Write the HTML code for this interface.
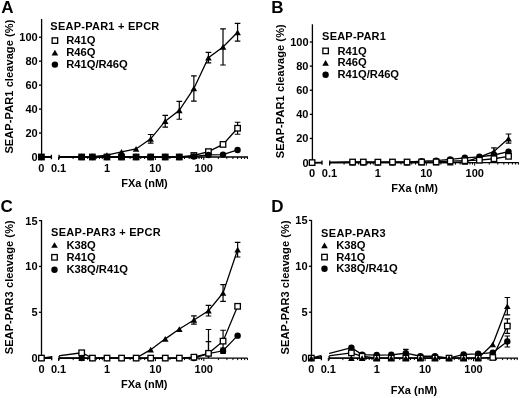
<!DOCTYPE html>
<html><head><meta charset="utf-8"><style>
html,body{margin:0;padding:0;background:#fff;}
svg{display:block;will-change:transform;filter:blur(0.3px);font-family:"Liberation Sans", sans-serif;}
</style></head><body>
<svg width="520" height="398" viewBox="0 0 520 398" fill="#000">
<text x="1.3" y="13" font-size="17" font-weight="bold" text-anchor="start" >A</text>
<path d="M41.6 19V157" stroke="#000" stroke-width="1.3" fill="none"/>
<path d="M39 157H41.6" stroke="#000" stroke-width="1.3"/>
<text x="37.7" y="160.9" font-size="11" font-weight="bold" text-anchor="end" >0</text>
<path d="M39 133.04H41.6" stroke="#000" stroke-width="1.3"/>
<text x="37.7" y="136.94" font-size="11" font-weight="bold" text-anchor="end" >20</text>
<path d="M39 109.08H41.6" stroke="#000" stroke-width="1.3"/>
<text x="37.7" y="112.98" font-size="11" font-weight="bold" text-anchor="end" >40</text>
<path d="M39 85.12H41.6" stroke="#000" stroke-width="1.3"/>
<text x="37.7" y="89.02" font-size="11" font-weight="bold" text-anchor="end" >60</text>
<path d="M39 61.16H41.6" stroke="#000" stroke-width="1.3"/>
<text x="37.7" y="65.06" font-size="11" font-weight="bold" text-anchor="end" >80</text>
<path d="M39 37.2H41.6" stroke="#000" stroke-width="1.3"/>
<text x="37.7" y="41.1" font-size="11" font-weight="bold" text-anchor="end" >100</text>
<path d="M41.6 157H51.4M51.4 154.8V159.2" stroke="#000" stroke-width="1.3" fill="none"/>
<path d="M59.1 154.8V159.2M59.1 157H248" stroke="#000" stroke-width="1.3" fill="none"/>
<path d="M58.55 157v3M73.12 157v2M81.64 157v2M87.69 157v2M92.38 157v2M96.21 157v2M99.45 157v2M102.26 157v2M104.74 157v2M106.95 157v3M121.52 157v2M130.04 157v2M136.09 157v2M140.78 157v2M144.61 157v2M147.85 157v2M150.66 157v2M153.14 157v2M155.35 157v3M169.92 157v2M178.44 157v2M184.49 157v2M189.18 157v2M193.01 157v2M196.25 157v2M199.06 157v2M201.54 157v2M203.75 157v3M218.32 157v2M226.84 157v2M232.89 157v2M237.58 157v2M241.41 157v2M244.65 157v2M247.46 157v2" stroke="#000" stroke-width="1"/>
<text x="41.4" y="171.6" font-size="11" font-weight="bold" text-anchor="middle" >0</text>
<text x="58.55" y="171.6" font-size="11" font-weight="bold" text-anchor="middle" >0.1</text>
<text x="106.95" y="171.6" font-size="11" font-weight="bold" text-anchor="middle" >1</text>
<text x="155.35" y="171.6" font-size="11" font-weight="bold" text-anchor="middle" >10</text>
<text x="203.75" y="171.6" font-size="11" font-weight="bold" text-anchor="middle" >100</text>
<text x="144.5" y="187.2" font-size="11" font-weight="bold" text-anchor="middle" >FXa (nM)</text>
<text x="0" y="0" font-size="11" font-weight="bold" text-anchor="middle" textLength="134" lengthAdjust="spacing" transform="translate(12.5 86.6) rotate(-90)">SEAP-PAR1 cleavage (%)</text>
<text x="50.3" y="29.6" font-size="11" font-weight="bold" text-anchor="start" textLength="109" lengthAdjust="spacing">SEAP-PAR1 + EPCR</text>
<rect x="52.15" y="37.85" width="5.5" height="5.5" fill="#fff" stroke="#000" stroke-width="1.3"/>
<text x="66.2" y="44.2" font-size="11.2" font-weight="bold" text-anchor="start" >R41Q</text>
<path d="M54.9 49.74L58.2 55.46L51.6 55.46Z" fill="#000"/>
<text x="66.2" y="56.2" font-size="11.2" font-weight="bold" text-anchor="start" >R46Q</text>
<circle cx="54.9" cy="64.6" r="3.2" fill="#000"/>
<text x="66.2" y="68.2" font-size="11.2" font-weight="bold" text-anchor="start" >R41Q/R46Q</text>
<clipPath id="cA"><rect x="0" y="0" width="51.4" height="400"/><rect x="59.1" y="0" width="600" height="400"/></clipPath>
<path d="M41.4 157L81.64 157L92.38 157L106.95 157L121.52 157L136.09 157L150.66 157L165.23 157L179.3 157L193.87 155.5L208.44 151.61L223.01 144.42L237.58 128.25" stroke="#000" stroke-width="1.3" fill="none" clip-path="url(#cA)"/>
<path d="M41.4 157L81.64 157L92.38 156.64L106.95 155.2L121.52 151.97L136.09 148.97L150.66 138.79L165.23 121.18L179.3 110.28L193.87 88.47L208.44 57.69L223.01 46.9L237.58 32.29" stroke="#000" stroke-width="1.3" fill="none" clip-path="url(#cA)"/>
<path d="M41.4 157L81.64 157L92.38 157L106.95 157L121.52 157L136.09 157L150.66 157L165.23 157L179.3 157L193.87 156.52L208.44 154.96L223.01 154.6L237.58 149.93" stroke="#000" stroke-width="1.3" fill="none" clip-path="url(#cA)"/>
<path d="M237.58 122.26V134.24M234.78 122.26h5.6M234.78 134.24h5.6" stroke="#000" stroke-width="1.2" fill="none"/>
<path d="M150.66 134.48V143.1M147.86 134.48h5.6M147.86 143.1h5.6" stroke="#000" stroke-width="1.2" fill="none"/>
<path d="M165.23 115.31V127.05M162.43 115.31h5.6M162.43 127.05h5.6" stroke="#000" stroke-width="1.2" fill="none"/>
<path d="M179.3 101.29V119.26M176.5 101.29h5.6M176.5 119.26h5.6" stroke="#000" stroke-width="1.2" fill="none"/>
<path d="M193.87 75.78V101.17M191.07 75.78h5.6M191.07 101.17h5.6" stroke="#000" stroke-width="1.2" fill="none"/>
<path d="M208.44 52.41V62.96M205.64 52.41h5.6M205.64 62.96h5.6" stroke="#000" stroke-width="1.2" fill="none"/>
<path d="M223.01 28.81V64.99M220.21 28.81h5.6M220.21 64.99h5.6" stroke="#000" stroke-width="1.2" fill="none"/>
<path d="M237.58 23.42V41.15M234.78 23.42h5.6M234.78 41.15h5.6" stroke="#000" stroke-width="1.2" fill="none"/>
<rect x="38.65" y="154.25" width="5.5" height="5.5" fill="#fff" stroke="#000" stroke-width="1.3"/>
<rect x="78.89" y="154.25" width="5.5" height="5.5" fill="#fff" stroke="#000" stroke-width="1.3"/>
<rect x="89.63" y="154.25" width="5.5" height="5.5" fill="#fff" stroke="#000" stroke-width="1.3"/>
<rect x="104.2" y="154.25" width="5.5" height="5.5" fill="#fff" stroke="#000" stroke-width="1.3"/>
<rect x="118.77" y="154.25" width="5.5" height="5.5" fill="#fff" stroke="#000" stroke-width="1.3"/>
<rect x="133.34" y="154.25" width="5.5" height="5.5" fill="#fff" stroke="#000" stroke-width="1.3"/>
<rect x="147.91" y="154.25" width="5.5" height="5.5" fill="#fff" stroke="#000" stroke-width="1.3"/>
<rect x="162.48" y="154.25" width="5.5" height="5.5" fill="#fff" stroke="#000" stroke-width="1.3"/>
<rect x="176.55" y="154.25" width="5.5" height="5.5" fill="#fff" stroke="#000" stroke-width="1.3"/>
<rect x="191.12" y="152.75" width="5.5" height="5.5" fill="#fff" stroke="#000" stroke-width="1.3"/>
<rect x="205.69" y="148.86" width="5.5" height="5.5" fill="#fff" stroke="#000" stroke-width="1.3"/>
<rect x="220.26" y="141.67" width="5.5" height="5.5" fill="#fff" stroke="#000" stroke-width="1.3"/>
<rect x="234.83" y="125.5" width="5.5" height="5.5" fill="#fff" stroke="#000" stroke-width="1.3"/>
<path d="M41.4 154.14L44.7 159.86L38.1 159.86Z" fill="#000"/>
<path d="M81.64 154.14L84.94 159.86L78.34 159.86Z" fill="#000"/>
<path d="M92.38 153.78L95.68 159.5L89.08 159.5Z" fill="#000"/>
<path d="M106.95 152.35L110.25 158.06L103.65 158.06Z" fill="#000"/>
<path d="M121.52 149.11L124.82 154.83L118.22 154.83Z" fill="#000"/>
<path d="M136.09 146.12L139.39 151.83L132.79 151.83Z" fill="#000"/>
<path d="M150.66 135.93L153.96 141.65L147.36 141.65Z" fill="#000"/>
<path d="M165.23 118.32L168.53 124.04L161.93 124.04Z" fill="#000"/>
<path d="M179.3 107.42L182.6 113.14L176 113.14Z" fill="#000"/>
<path d="M193.87 85.62L197.17 91.33L190.57 91.33Z" fill="#000"/>
<path d="M208.44 54.83L211.74 60.54L205.14 60.54Z" fill="#000"/>
<path d="M223.01 44.05L226.31 49.76L219.71 49.76Z" fill="#000"/>
<path d="M237.58 29.43L240.88 35.15L234.28 35.15Z" fill="#000"/>
<circle cx="41.4" cy="157" r="3.2" fill="#000"/>
<circle cx="81.64" cy="157" r="3.2" fill="#000"/>
<circle cx="92.38" cy="157" r="3.2" fill="#000"/>
<circle cx="106.95" cy="157" r="3.2" fill="#000"/>
<circle cx="121.52" cy="157" r="3.2" fill="#000"/>
<circle cx="136.09" cy="157" r="3.2" fill="#000"/>
<circle cx="150.66" cy="157" r="3.2" fill="#000"/>
<circle cx="165.23" cy="157" r="3.2" fill="#000"/>
<circle cx="179.3" cy="157" r="3.2" fill="#000"/>
<circle cx="193.87" cy="156.52" r="3.2" fill="#000"/>
<circle cx="208.44" cy="154.96" r="3.2" fill="#000"/>
<circle cx="223.01" cy="154.6" r="3.2" fill="#000"/>
<circle cx="237.58" cy="149.93" r="3.2" fill="#000"/>
<text x="271.3" y="13.3" font-size="17" font-weight="bold" text-anchor="start" >B</text>
<path d="M312.4 24.3V162.6" stroke="#000" stroke-width="1.3" fill="none"/>
<path d="M309.8 162.6H312.4" stroke="#000" stroke-width="1.3"/>
<text x="308.5" y="166.5" font-size="11" font-weight="bold" text-anchor="end" >0</text>
<path d="M309.8 138.48H312.4" stroke="#000" stroke-width="1.3"/>
<text x="308.5" y="142.38" font-size="11" font-weight="bold" text-anchor="end" >20</text>
<path d="M309.8 114.36H312.4" stroke="#000" stroke-width="1.3"/>
<text x="308.5" y="118.26" font-size="11" font-weight="bold" text-anchor="end" >40</text>
<path d="M309.8 90.24H312.4" stroke="#000" stroke-width="1.3"/>
<text x="308.5" y="94.14" font-size="11" font-weight="bold" text-anchor="end" >60</text>
<path d="M309.8 66.12H312.4" stroke="#000" stroke-width="1.3"/>
<text x="308.5" y="70.02" font-size="11" font-weight="bold" text-anchor="end" >80</text>
<path d="M309.8 42H312.4" stroke="#000" stroke-width="1.3"/>
<text x="308.5" y="45.9" font-size="11" font-weight="bold" text-anchor="end" >100</text>
<path d="M312.4 162.6H322M322 160.4V164.8" stroke="#000" stroke-width="1.3" fill="none"/>
<path d="M329.8 160.4V164.8M329.8 162.6H518.8" stroke="#000" stroke-width="1.3" fill="none"/>
<path d="M329.5 162.6v3M344.07 162.6v2M352.59 162.6v2M358.64 162.6v2M363.33 162.6v2M367.16 162.6v2M370.4 162.6v2M373.21 162.6v2M375.69 162.6v2M377.9 162.6v3M392.47 162.6v2M400.99 162.6v2M407.04 162.6v2M411.73 162.6v2M415.56 162.6v2M418.8 162.6v2M421.61 162.6v2M424.09 162.6v2M426.3 162.6v3M440.87 162.6v2M449.39 162.6v2M455.44 162.6v2M460.13 162.6v2M463.96 162.6v2M467.2 162.6v2M470.01 162.6v2M472.49 162.6v2M474.7 162.6v3M489.27 162.6v2M497.79 162.6v2M503.84 162.6v2M508.53 162.6v2M512.36 162.6v2M515.6 162.6v2M518.41 162.6v2" stroke="#000" stroke-width="1"/>
<text x="312.1" y="177.3" font-size="11" font-weight="bold" text-anchor="middle" >0</text>
<text x="329.5" y="177.3" font-size="11" font-weight="bold" text-anchor="middle" >0.1</text>
<text x="377.9" y="177.3" font-size="11" font-weight="bold" text-anchor="middle" >1</text>
<text x="426.3" y="177.3" font-size="11" font-weight="bold" text-anchor="middle" >10</text>
<text x="474.7" y="177.3" font-size="11" font-weight="bold" text-anchor="middle" >100</text>
<text x="414.6" y="192.4" font-size="11" font-weight="bold" text-anchor="middle" >FXa (nM)</text>
<text x="0" y="0" font-size="11" font-weight="bold" text-anchor="middle" textLength="134" lengthAdjust="spacing" transform="translate(283.5 91.3) rotate(-90)">SEAP-PAR1 cleavage (%)</text>
<text x="322.1" y="40.4" font-size="11" font-weight="bold" text-anchor="start" textLength="63.8" lengthAdjust="spacing">SEAP-PAR1</text>
<rect x="322.85" y="48.15" width="5.5" height="5.5" fill="#fff" stroke="#000" stroke-width="1.3"/>
<text x="337.5" y="54.5" font-size="11.2" font-weight="bold" text-anchor="start" >R41Q</text>
<path d="M325.6 59.94L328.9 65.66L322.3 65.66Z" fill="#000"/>
<text x="337.5" y="66.4" font-size="11.2" font-weight="bold" text-anchor="start" >R46Q</text>
<circle cx="325.6" cy="74.8" r="3.2" fill="#000"/>
<text x="337.5" y="78.4" font-size="11.2" font-weight="bold" text-anchor="start" >R41Q/R46Q</text>
<clipPath id="cB"><rect x="0" y="0" width="322" height="400"/><rect x="329.8" y="0" width="600" height="400"/></clipPath>
<path d="M312.1 162.6L352.59 162.6L363.33 162.6L377.9 162.6L392.47 162.6L407.04 162.6L421.61 162.6L436.18 162.6L450.25 162.6L464.82 162L479.39 157.17L493.96 151.38L508.53 138.6" stroke="#000" stroke-width="1.3" fill="none" clip-path="url(#cB)"/>
<path d="M312.1 162.6L352.59 162.24L363.33 162.24L377.9 162.24L392.47 162.24L407.04 162.24L421.61 161.15L436.18 160.67L450.25 159.46L464.82 157.78L479.39 156.81L493.96 155L508.53 151.63" stroke="#000" stroke-width="1.3" fill="none" clip-path="url(#cB)"/>
<path d="M312.1 162.6L352.59 162L363.33 162L377.9 162.12L392.47 162L407.04 162L421.61 162L436.18 161.88L450.25 161.03L464.82 160.67L479.39 160.19L493.96 158.74L508.53 156.33" stroke="#000" stroke-width="1.3" fill="none" clip-path="url(#cB)"/>
<path d="M493.96 147.95V154.82M491.16 147.95h5.6M491.16 154.82h5.6" stroke="#000" stroke-width="1.2" fill="none"/>
<path d="M508.53 134.02V143.18M505.73 134.02h5.6M505.73 143.18h5.6" stroke="#000" stroke-width="1.2" fill="none"/>
<path d="M312.1 159.74L315.4 165.46L308.8 165.46Z" fill="#000"/>
<path d="M352.59 159.74L355.89 165.46L349.29 165.46Z" fill="#000"/>
<path d="M363.33 159.74L366.63 165.46L360.03 165.46Z" fill="#000"/>
<path d="M377.9 159.74L381.2 165.46L374.6 165.46Z" fill="#000"/>
<path d="M392.47 159.74L395.77 165.46L389.17 165.46Z" fill="#000"/>
<path d="M407.04 159.74L410.34 165.46L403.74 165.46Z" fill="#000"/>
<path d="M421.61 159.74L424.91 165.46L418.31 165.46Z" fill="#000"/>
<path d="M436.18 159.74L439.48 165.46L432.88 165.46Z" fill="#000"/>
<path d="M450.25 159.74L453.55 165.46L446.95 165.46Z" fill="#000"/>
<path d="M464.82 159.14L468.12 164.85L461.52 164.85Z" fill="#000"/>
<path d="M479.39 154.32L482.69 160.03L476.09 160.03Z" fill="#000"/>
<path d="M493.96 148.53L497.26 154.24L490.66 154.24Z" fill="#000"/>
<path d="M508.53 135.74L511.83 141.46L505.23 141.46Z" fill="#000"/>
<circle cx="312.1" cy="162.6" r="3.2" fill="#000"/>
<circle cx="352.59" cy="162.24" r="3.2" fill="#000"/>
<circle cx="363.33" cy="162.24" r="3.2" fill="#000"/>
<circle cx="377.9" cy="162.24" r="3.2" fill="#000"/>
<circle cx="392.47" cy="162.24" r="3.2" fill="#000"/>
<circle cx="407.04" cy="162.24" r="3.2" fill="#000"/>
<circle cx="421.61" cy="161.15" r="3.2" fill="#000"/>
<circle cx="436.18" cy="160.67" r="3.2" fill="#000"/>
<circle cx="450.25" cy="159.46" r="3.2" fill="#000"/>
<circle cx="464.82" cy="157.78" r="3.2" fill="#000"/>
<circle cx="479.39" cy="156.81" r="3.2" fill="#000"/>
<circle cx="493.96" cy="155" r="3.2" fill="#000"/>
<circle cx="508.53" cy="151.63" r="3.2" fill="#000"/>
<rect x="309.35" y="159.85" width="5.5" height="5.5" fill="#fff" stroke="#000" stroke-width="1.3"/>
<rect x="349.84" y="159.25" width="5.5" height="5.5" fill="#fff" stroke="#000" stroke-width="1.3"/>
<rect x="360.58" y="159.25" width="5.5" height="5.5" fill="#fff" stroke="#000" stroke-width="1.3"/>
<rect x="375.15" y="159.37" width="5.5" height="5.5" fill="#fff" stroke="#000" stroke-width="1.3"/>
<rect x="389.72" y="159.25" width="5.5" height="5.5" fill="#fff" stroke="#000" stroke-width="1.3"/>
<rect x="404.29" y="159.25" width="5.5" height="5.5" fill="#fff" stroke="#000" stroke-width="1.3"/>
<rect x="418.86" y="159.25" width="5.5" height="5.5" fill="#fff" stroke="#000" stroke-width="1.3"/>
<rect x="433.43" y="159.13" width="5.5" height="5.5" fill="#fff" stroke="#000" stroke-width="1.3"/>
<rect x="447.5" y="158.28" width="5.5" height="5.5" fill="#fff" stroke="#000" stroke-width="1.3"/>
<rect x="462.07" y="157.92" width="5.5" height="5.5" fill="#fff" stroke="#000" stroke-width="1.3"/>
<rect x="476.64" y="157.44" width="5.5" height="5.5" fill="#fff" stroke="#000" stroke-width="1.3"/>
<rect x="491.21" y="155.99" width="5.5" height="5.5" fill="#fff" stroke="#000" stroke-width="1.3"/>
<rect x="505.78" y="153.58" width="5.5" height="5.5" fill="#fff" stroke="#000" stroke-width="1.3"/>
<text x="0.4" y="211.6" font-size="17" font-weight="bold" text-anchor="start" >C</text>
<path d="M41.5 220V358.1" stroke="#000" stroke-width="1.3" fill="none"/>
<path d="M38.9 358.1H41.5" stroke="#000" stroke-width="1.3"/>
<text x="37.6" y="362" font-size="11" font-weight="bold" text-anchor="end" >0</text>
<path d="M38.9 312.27H41.5" stroke="#000" stroke-width="1.3"/>
<text x="37.6" y="316.17" font-size="11" font-weight="bold" text-anchor="end" >5</text>
<path d="M38.9 266.43H41.5" stroke="#000" stroke-width="1.3"/>
<text x="37.6" y="270.33" font-size="11" font-weight="bold" text-anchor="end" >10</text>
<path d="M38.9 220.6H41.5" stroke="#000" stroke-width="1.3"/>
<text x="37.6" y="224.5" font-size="11" font-weight="bold" text-anchor="end" >15</text>
<path d="M41.5 358.1H51.7M51.7 355.9V360.3" stroke="#000" stroke-width="1.3" fill="none"/>
<path d="M59.1 355.9V360.3M59.1 358.1H247.5" stroke="#000" stroke-width="1.3" fill="none"/>
<path d="M58.6 358.1v3M73.17 358.1v2M81.69 358.1v2M87.74 358.1v2M92.43 358.1v2M96.26 358.1v2M99.5 358.1v2M102.31 358.1v2M104.79 358.1v2M107 358.1v3M121.57 358.1v2M130.09 358.1v2M136.14 358.1v2M140.83 358.1v2M144.66 358.1v2M147.9 358.1v2M150.71 358.1v2M153.19 358.1v2M155.4 358.1v3M169.97 358.1v2M178.49 358.1v2M184.54 358.1v2M189.23 358.1v2M193.06 358.1v2M196.3 358.1v2M199.11 358.1v2M201.59 358.1v2M203.8 358.1v3M218.37 358.1v2M226.89 358.1v2M232.94 358.1v2M237.63 358.1v2M241.46 358.1v2M244.7 358.1v2M247.51 358.1v2" stroke="#000" stroke-width="1"/>
<text x="41.45" y="372.6" font-size="11" font-weight="bold" text-anchor="middle" >0</text>
<text x="58.6" y="372.6" font-size="11" font-weight="bold" text-anchor="middle" >0.1</text>
<text x="107" y="372.6" font-size="11" font-weight="bold" text-anchor="middle" >1</text>
<text x="155.4" y="372.6" font-size="11" font-weight="bold" text-anchor="middle" >10</text>
<text x="203.8" y="372.6" font-size="11" font-weight="bold" text-anchor="middle" >100</text>
<text x="144.3" y="388" font-size="11" font-weight="bold" text-anchor="middle" >FXa (nM)</text>
<text x="0" y="0" font-size="11" font-weight="bold" text-anchor="middle" textLength="134" lengthAdjust="spacing" transform="translate(12.9 287.3) rotate(-90)">SEAP-PAR3 cleavage (%)</text>
<text x="51.1" y="235.8" font-size="11" font-weight="bold" text-anchor="start" textLength="109.5" lengthAdjust="spacing">SEAP-PAR3 + EPCR</text>
<path d="M54.5 242.14L57.8 247.86L51.2 247.86Z" fill="#000"/>
<text x="66.5" y="248.6" font-size="11.2" font-weight="bold" text-anchor="start" >K38Q</text>
<rect x="51.75" y="254.55" width="5.5" height="5.5" fill="#fff" stroke="#000" stroke-width="1.3"/>
<text x="66.5" y="260.9" font-size="11.2" font-weight="bold" text-anchor="start" >R41Q</text>
<circle cx="54.5" cy="269.8" r="3.2" fill="#000"/>
<text x="66.5" y="273.4" font-size="11.2" font-weight="bold" text-anchor="start" >K38Q/R41Q</text>
<clipPath id="cC"><rect x="0" y="0" width="51.7" height="400"/><rect x="59.1" y="0" width="600" height="400"/></clipPath>
<path d="M41.45 358.1L81.69 358.1L92.43 358.1L107 358.1L121.57 358.1L136.14 358.1L150.71 349.67L165.28 338.85L179.35 329.04L193.92 319.97L208.49 310.71L223.06 293.01L237.63 249.65" stroke="#000" stroke-width="1.3" fill="none" clip-path="url(#cC)"/>
<path d="M41.45 358.1L81.69 358.1L92.43 358.1L107 358.1L121.57 358.1L136.14 358.1L150.71 358.1L165.28 358.1L179.35 358.1L193.92 358.1L208.49 353.52L223.06 350.77L237.63 335.64" stroke="#000" stroke-width="1.3" fill="none" clip-path="url(#cC)"/>
<path d="M41.45 358.1L81.69 352.78L92.43 358.1L107 358.1L121.57 358.1L136.14 358.1L150.71 358.1L165.28 358.1L179.35 358.1L193.92 357.18L208.49 353.33L223.06 341.14L237.63 306.31" stroke="#000" stroke-width="1.3" fill="none" clip-path="url(#cC)"/>
<path d="M193.92 315.84V324.09M191.12 315.84h5.6M191.12 324.09h5.6" stroke="#000" stroke-width="1.2" fill="none"/>
<path d="M208.49 305.39V316.02M205.69 305.39h5.6M205.69 316.02h5.6" stroke="#000" stroke-width="1.2" fill="none"/>
<path d="M223.06 284.58V301.45M220.26 284.58h5.6M220.26 301.45h5.6" stroke="#000" stroke-width="1.2" fill="none"/>
<path d="M237.63 242.32V256.99M234.83 242.32h5.6M234.83 256.99h5.6" stroke="#000" stroke-width="1.2" fill="none"/>
<path d="M208.49 341.6V358.1M205.69 341.6h5.6" stroke="#000" stroke-width="1.2" fill="none"/>
<path d="M223.06 348.02V353.52M220.26 348.02h5.6M220.26 353.52h5.6" stroke="#000" stroke-width="1.2" fill="none"/>
<path d="M208.49 329.5V358.1M205.69 329.5h5.6" stroke="#000" stroke-width="1.2" fill="none"/>
<path d="M223.06 330.23V352.05M220.26 330.23h5.6M220.26 352.05h5.6" stroke="#000" stroke-width="1.2" fill="none"/>
<path d="M41.45 355.24L44.75 360.96L38.15 360.96Z" fill="#000"/>
<path d="M81.69 355.24L84.99 360.96L78.39 360.96Z" fill="#000"/>
<path d="M92.43 355.24L95.73 360.96L89.13 360.96Z" fill="#000"/>
<path d="M107 355.24L110.3 360.96L103.7 360.96Z" fill="#000"/>
<path d="M121.57 355.24L124.87 360.96L118.27 360.96Z" fill="#000"/>
<path d="M136.14 355.24L139.44 360.96L132.84 360.96Z" fill="#000"/>
<path d="M150.71 346.81L154.01 352.52L147.41 352.52Z" fill="#000"/>
<path d="M165.28 335.99L168.58 341.71L161.98 341.71Z" fill="#000"/>
<path d="M179.35 326.18L182.65 331.9L176.05 331.9Z" fill="#000"/>
<path d="M193.92 317.11L197.22 322.82L190.62 322.82Z" fill="#000"/>
<path d="M208.49 307.85L211.79 313.56L205.19 313.56Z" fill="#000"/>
<path d="M223.06 290.16L226.36 295.87L219.76 295.87Z" fill="#000"/>
<path d="M237.63 246.8L240.93 252.51L234.33 252.51Z" fill="#000"/>
<circle cx="41.45" cy="358.1" r="3.2" fill="#000"/>
<circle cx="81.69" cy="358.1" r="3.2" fill="#000"/>
<circle cx="92.43" cy="358.1" r="3.2" fill="#000"/>
<circle cx="107" cy="358.1" r="3.2" fill="#000"/>
<circle cx="121.57" cy="358.1" r="3.2" fill="#000"/>
<circle cx="136.14" cy="358.1" r="3.2" fill="#000"/>
<circle cx="150.71" cy="358.1" r="3.2" fill="#000"/>
<circle cx="165.28" cy="358.1" r="3.2" fill="#000"/>
<circle cx="179.35" cy="358.1" r="3.2" fill="#000"/>
<circle cx="193.92" cy="358.1" r="3.2" fill="#000"/>
<circle cx="208.49" cy="353.52" r="3.2" fill="#000"/>
<circle cx="223.06" cy="350.77" r="3.2" fill="#000"/>
<circle cx="237.63" cy="335.64" r="3.2" fill="#000"/>
<rect x="38.7" y="355.35" width="5.5" height="5.5" fill="#fff" stroke="#000" stroke-width="1.3"/>
<rect x="78.94" y="350.03" width="5.5" height="5.5" fill="#fff" stroke="#000" stroke-width="1.3"/>
<rect x="89.68" y="355.35" width="5.5" height="5.5" fill="#fff" stroke="#000" stroke-width="1.3"/>
<rect x="104.25" y="355.35" width="5.5" height="5.5" fill="#fff" stroke="#000" stroke-width="1.3"/>
<rect x="118.82" y="355.35" width="5.5" height="5.5" fill="#fff" stroke="#000" stroke-width="1.3"/>
<rect x="133.39" y="355.35" width="5.5" height="5.5" fill="#fff" stroke="#000" stroke-width="1.3"/>
<rect x="147.96" y="355.35" width="5.5" height="5.5" fill="#fff" stroke="#000" stroke-width="1.3"/>
<rect x="162.53" y="355.35" width="5.5" height="5.5" fill="#fff" stroke="#000" stroke-width="1.3"/>
<rect x="176.6" y="355.35" width="5.5" height="5.5" fill="#fff" stroke="#000" stroke-width="1.3"/>
<rect x="191.17" y="354.43" width="5.5" height="5.5" fill="#fff" stroke="#000" stroke-width="1.3"/>
<rect x="205.74" y="350.58" width="5.5" height="5.5" fill="#fff" stroke="#000" stroke-width="1.3"/>
<rect x="220.31" y="338.39" width="5.5" height="5.5" fill="#fff" stroke="#000" stroke-width="1.3"/>
<rect x="234.88" y="303.56" width="5.5" height="5.5" fill="#fff" stroke="#000" stroke-width="1.3"/>
<text x="271.3" y="211.7" font-size="17" font-weight="bold" text-anchor="start" >D</text>
<path d="M311.5 220V358.1" stroke="#000" stroke-width="1.3" fill="none"/>
<path d="M308.9 358.1H311.5" stroke="#000" stroke-width="1.3"/>
<text x="307.6" y="362" font-size="11" font-weight="bold" text-anchor="end" >0</text>
<path d="M308.9 312.2H311.5" stroke="#000" stroke-width="1.3"/>
<text x="307.6" y="316.1" font-size="11" font-weight="bold" text-anchor="end" >5</text>
<path d="M308.9 266.3H311.5" stroke="#000" stroke-width="1.3"/>
<text x="307.6" y="270.2" font-size="11" font-weight="bold" text-anchor="end" >10</text>
<path d="M308.9 220.4H311.5" stroke="#000" stroke-width="1.3"/>
<text x="307.6" y="224.3" font-size="11" font-weight="bold" text-anchor="end" >15</text>
<path d="M311.5 358.1H321.4M321.4 355.9V360.3" stroke="#000" stroke-width="1.3" fill="none"/>
<path d="M329.1 355.9V360.3M329.1 358.1H518" stroke="#000" stroke-width="1.3" fill="none"/>
<path d="M328.3 358.1v3M342.87 358.1v2M351.39 358.1v2M357.44 358.1v2M362.13 358.1v2M365.96 358.1v2M369.2 358.1v2M372.01 358.1v2M374.49 358.1v2M376.7 358.1v3M391.27 358.1v2M399.79 358.1v2M405.84 358.1v2M410.53 358.1v2M414.36 358.1v2M417.6 358.1v2M420.41 358.1v2M422.89 358.1v2M425.1 358.1v3M439.67 358.1v2M448.19 358.1v2M454.24 358.1v2M458.93 358.1v2M462.76 358.1v2M466 358.1v2M468.81 358.1v2M471.29 358.1v2M473.5 358.1v3M488.07 358.1v2M496.59 358.1v2M502.64 358.1v2M507.33 358.1v2M511.16 358.1v2M514.4 358.1v2M517.21 358.1v2" stroke="#000" stroke-width="1"/>
<text x="311.3" y="372.6" font-size="11" font-weight="bold" text-anchor="middle" >0</text>
<text x="328.3" y="372.6" font-size="11" font-weight="bold" text-anchor="middle" >0.1</text>
<text x="376.7" y="372.6" font-size="11" font-weight="bold" text-anchor="middle" >1</text>
<text x="425.1" y="372.6" font-size="11" font-weight="bold" text-anchor="middle" >10</text>
<text x="473.5" y="372.6" font-size="11" font-weight="bold" text-anchor="middle" >100</text>
<text x="414" y="394.2" font-size="11" font-weight="bold" text-anchor="middle" >FXa (nM)</text>
<text x="0" y="0" font-size="11" font-weight="bold" text-anchor="middle" textLength="134" lengthAdjust="spacing" transform="translate(289 287.4) rotate(-90)">SEAP-PAR3 cleavage (%)</text>
<text x="321.1" y="236.8" font-size="11" font-weight="bold" text-anchor="start" textLength="64.6" lengthAdjust="spacing">SEAP-PAR3</text>
<path d="M324.5 242.44L327.8 248.16L321.2 248.16Z" fill="#000"/>
<text x="336.2" y="248.9" font-size="11.2" font-weight="bold" text-anchor="start" >K38Q</text>
<rect x="321.75" y="254.35" width="5.5" height="5.5" fill="#fff" stroke="#000" stroke-width="1.3"/>
<text x="336.2" y="260.7" font-size="11.2" font-weight="bold" text-anchor="start" >R41Q</text>
<circle cx="324.5" cy="268.8" r="3.2" fill="#000"/>
<text x="336.2" y="272.4" font-size="11.2" font-weight="bold" text-anchor="start" >K38Q/R41Q</text>
<clipPath id="cD"><rect x="0" y="0" width="321.4" height="400"/><rect x="329.1" y="0" width="600" height="400"/></clipPath>
<path d="M311.3 358.1L351.39 347.73L362.13 354.61L376.7 355.07L391.27 354.8L405.84 353.23L420.41 356.26L434.98 356.26L449.05 358.1L463.62 354.34L478.19 353.79L492.76 352.59L507.33 341.48" stroke="#000" stroke-width="1.3" fill="none" clip-path="url(#cD)"/>
<path d="M311.3 358.1L351.39 352.87L362.13 356.26L376.7 358.1L391.27 358.1L405.84 358.1L420.41 358.1L434.98 358.1L449.05 358.1L463.62 358.1L478.19 358.1L492.76 357.46L507.33 326.06" stroke="#000" stroke-width="1.3" fill="none" clip-path="url(#cD)"/>
<path d="M311.3 358.1L351.39 358.1L362.13 358.1L376.7 358.1L391.27 358.1L405.84 358.1L420.41 358.1L434.98 358.1L449.05 358.1L463.62 358.1L478.19 358.1L492.76 344.33L507.33 306.23" stroke="#000" stroke-width="1.3" fill="none" clip-path="url(#cD)"/>
<path d="M405.84 349.47V357M403.04 349.47h5.6M403.04 357h5.6" stroke="#000" stroke-width="1.2" fill="none"/>
<path d="M507.33 335.98V346.99M504.53 335.98h5.6M504.53 346.99h5.6" stroke="#000" stroke-width="1.2" fill="none"/>
<path d="M507.33 318.81V333.31M504.53 318.81h5.6M504.53 333.31h5.6" stroke="#000" stroke-width="1.2" fill="none"/>
<path d="M507.33 297.51V314.95M504.53 297.51h5.6M504.53 314.95h5.6" stroke="#000" stroke-width="1.2" fill="none"/>
<circle cx="311.3" cy="358.1" r="3.2" fill="#000"/>
<circle cx="351.39" cy="347.73" r="3.2" fill="#000"/>
<circle cx="362.13" cy="354.61" r="3.2" fill="#000"/>
<circle cx="376.7" cy="355.07" r="3.2" fill="#000"/>
<circle cx="391.27" cy="354.8" r="3.2" fill="#000"/>
<circle cx="405.84" cy="353.23" r="3.2" fill="#000"/>
<circle cx="420.41" cy="356.26" r="3.2" fill="#000"/>
<circle cx="434.98" cy="356.26" r="3.2" fill="#000"/>
<circle cx="449.05" cy="358.1" r="3.2" fill="#000"/>
<circle cx="463.62" cy="354.34" r="3.2" fill="#000"/>
<circle cx="478.19" cy="353.79" r="3.2" fill="#000"/>
<circle cx="492.76" cy="352.59" r="3.2" fill="#000"/>
<circle cx="507.33" cy="341.48" r="3.2" fill="#000"/>
<rect x="308.55" y="355.35" width="5.5" height="5.5" fill="#fff" stroke="#000" stroke-width="1.3"/>
<rect x="348.64" y="350.12" width="5.5" height="5.5" fill="#fff" stroke="#000" stroke-width="1.3"/>
<rect x="359.38" y="353.51" width="5.5" height="5.5" fill="#fff" stroke="#000" stroke-width="1.3"/>
<rect x="373.95" y="355.35" width="5.5" height="5.5" fill="#fff" stroke="#000" stroke-width="1.3"/>
<rect x="388.52" y="355.35" width="5.5" height="5.5" fill="#fff" stroke="#000" stroke-width="1.3"/>
<rect x="403.09" y="355.35" width="5.5" height="5.5" fill="#fff" stroke="#000" stroke-width="1.3"/>
<rect x="417.66" y="355.35" width="5.5" height="5.5" fill="#fff" stroke="#000" stroke-width="1.3"/>
<rect x="432.23" y="355.35" width="5.5" height="5.5" fill="#fff" stroke="#000" stroke-width="1.3"/>
<rect x="446.3" y="355.35" width="5.5" height="5.5" fill="#fff" stroke="#000" stroke-width="1.3"/>
<rect x="460.87" y="355.35" width="5.5" height="5.5" fill="#fff" stroke="#000" stroke-width="1.3"/>
<rect x="475.44" y="355.35" width="5.5" height="5.5" fill="#fff" stroke="#000" stroke-width="1.3"/>
<rect x="490.01" y="354.71" width="5.5" height="5.5" fill="#fff" stroke="#000" stroke-width="1.3"/>
<rect x="504.58" y="323.31" width="5.5" height="5.5" fill="#fff" stroke="#000" stroke-width="1.3"/>
<path d="M311.3 355.24L314.6 360.96L308 360.96Z" fill="#000"/>
<path d="M351.39 355.24L354.69 360.96L348.09 360.96Z" fill="#000"/>
<path d="M362.13 355.24L365.43 360.96L358.83 360.96Z" fill="#000"/>
<path d="M376.7 355.24L380 360.96L373.4 360.96Z" fill="#000"/>
<path d="M391.27 355.24L394.57 360.96L387.97 360.96Z" fill="#000"/>
<path d="M405.84 355.24L409.14 360.96L402.54 360.96Z" fill="#000"/>
<path d="M420.41 355.24L423.71 360.96L417.11 360.96Z" fill="#000"/>
<path d="M434.98 355.24L438.28 360.96L431.68 360.96Z" fill="#000"/>
<path d="M449.05 355.24L452.35 360.96L445.75 360.96Z" fill="#000"/>
<path d="M463.62 355.24L466.92 360.96L460.32 360.96Z" fill="#000"/>
<path d="M478.19 355.24L481.49 360.96L474.89 360.96Z" fill="#000"/>
<path d="M492.76 341.47L496.06 347.19L489.46 347.19Z" fill="#000"/>
<path d="M507.33 303.38L510.63 309.09L504.03 309.09Z" fill="#000"/>
</svg>
</body></html>
